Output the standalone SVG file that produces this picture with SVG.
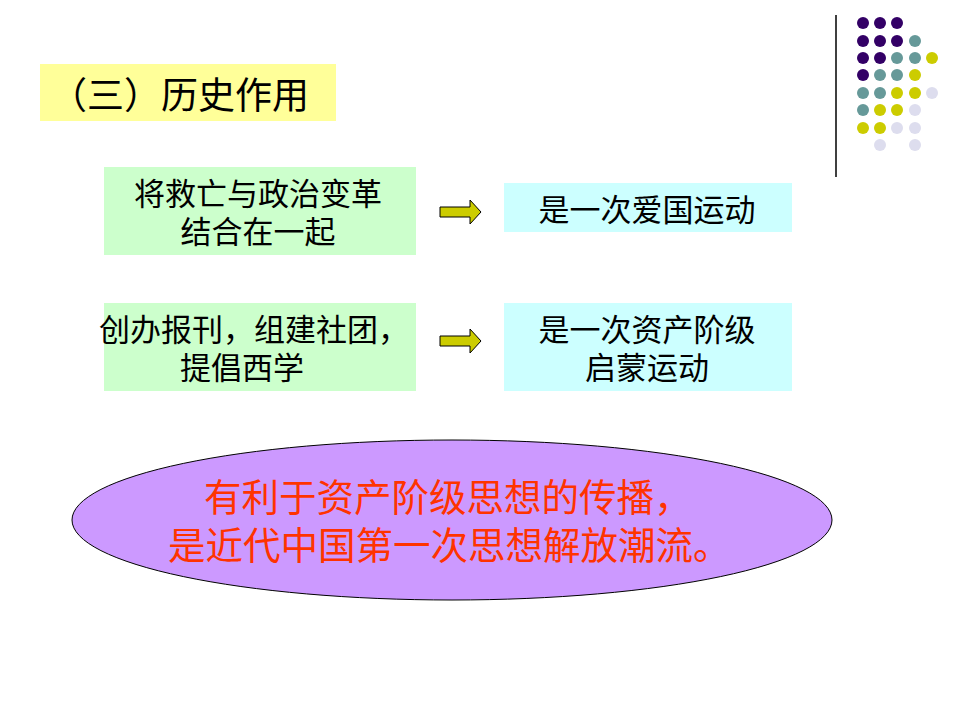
<svg xmlns="http://www.w3.org/2000/svg" width="960" height="720" viewBox="0 0 960 720">
<style>
.t{font-family:"Liberation Sans","Noto Sans CJK SC",sans-serif;fill:#000}
.b30{font-size:31px}
.c{text-anchor:middle}
.green{fill:#CCFFCC}
.cyan{fill:#CCFFFF}
.arrow{fill:#CCCC00;stroke:#000;stroke-width:1}
.red{font-size:37.5px;fill:#FF3300}
.p{fill:#330066}.g{fill:#669999}.y{fill:#CCCC00}.l{fill:#DDDDEE}
</style>
<rect width="960" height="720" fill="#fff"/>
<g id="decor">
<line x1="836" y1="15" x2="836" y2="177" stroke="#000" stroke-width="1.5"/>
<g>
<circle class="p" cx="863" cy="23" r="6"/><circle class="p" cx="880" cy="23" r="6"/><circle class="p" cx="897" cy="23" r="6"/>
<circle class="p" cx="863" cy="41" r="6"/><circle class="p" cx="880" cy="41" r="6"/><circle class="p" cx="897" cy="41" r="6"/><circle class="g" cx="915" cy="41" r="6"/>
<circle class="p" cx="863" cy="58" r="6"/><circle class="p" cx="880" cy="58" r="6"/><circle class="g" cx="897" cy="58" r="6"/><circle class="g" cx="915" cy="58" r="6"/><circle class="y" cx="932" cy="58" r="6"/>
<circle class="p" cx="863" cy="75" r="6"/><circle class="g" cx="880" cy="75" r="6"/><circle class="g" cx="897" cy="75" r="6"/><circle class="y" cx="915" cy="75" r="6"/>
<circle class="g" cx="863" cy="93" r="6"/><circle class="g" cx="880" cy="93" r="6"/><circle class="y" cx="897" cy="93" r="6"/><circle class="y" cx="915" cy="93" r="6"/><circle class="l" cx="932" cy="93" r="6"/>
<circle class="g" cx="863" cy="110" r="6"/><circle class="y" cx="880" cy="110" r="6"/><circle class="y" cx="897" cy="110" r="6"/><circle class="l" cx="915" cy="110" r="6"/>
<circle class="y" cx="863" cy="128" r="6"/><circle class="y" cx="880" cy="128" r="6"/><circle class="l" cx="897" cy="128" r="6"/><circle class="l" cx="915" cy="128" r="6"/>
<circle class="l" cx="880" cy="145" r="6"/><circle class="l" cx="915" cy="145" r="6"/>
</g>
</g>
<g id="title">
<rect x="40" y="64" width="296" height="57" fill="#FFFF99"/>
<text class="t" x="50" y="109" font-size="37">（三）历史作用</text>
</g>
<g id="cause1">
<rect class="green" x="104" y="167" width="312" height="88"/>
<text class="t b30 c" x="258" y="205">将救亡与政治变革</text>
<text class="t b30 c" x="258" y="243">结合在一起</text>
</g>
<g id="cause2">
<rect class="green" x="104" y="303" width="312" height="88"/>
<text class="t b30" x="99" y="341">创办报刊，组建社团，</text>
<text class="t b30" x="180" y="379">提倡西学</text>
</g>
<g id="effect1">
<rect class="cyan" x="504" y="183" width="288" height="49"/>
<text class="t b30 c" x="647" y="221">是一次爱国运动</text>
</g>
<g id="effect2">
<rect class="cyan" x="504" y="303" width="288" height="88"/>
<text class="t b30 c" x="647" y="341">是一次资产阶级</text>
<text class="t b30 c" x="647" y="379">启蒙运动</text>
</g>
<g id="connectors">
<polygon class="arrow" points="440,207 470,207 470,200 481,212 470,224 470,217 440,217"/>
<polygon class="arrow" points="440,336 470,336 470,329 481,341 470,353 470,346 440,346"/>
</g>
<g id="conclusion">
<ellipse cx="452" cy="520" rx="380" ry="80" fill="#CC99FF" stroke="#000" stroke-width="1"/>
<text class="t red" x="204" y="511" style="fill:#FF3300">有利于资产阶级思想的传播，</text>
<text class="t red" x="168" y="559" style="fill:#FF3300">是近代中国第一次思想解放潮流。</text>
</g>
</svg>
